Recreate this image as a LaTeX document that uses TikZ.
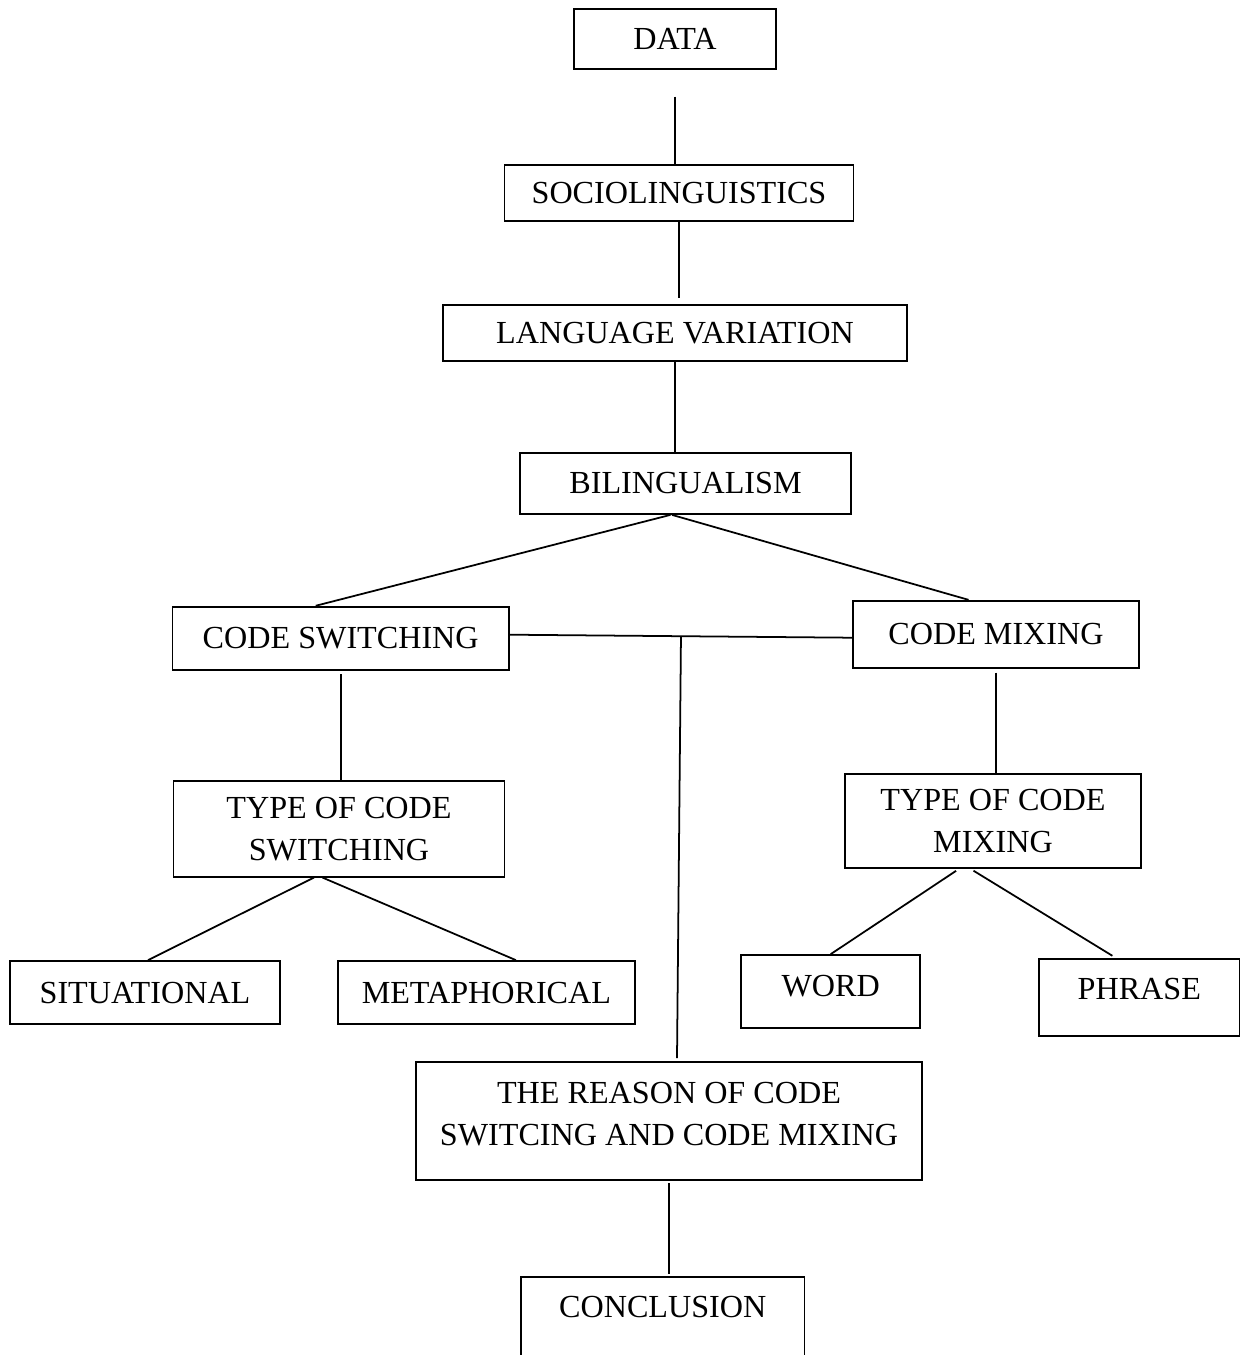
\documentclass[tikz,border=0pt]{standalone}
\usepackage{fontspec}
\setmainfont{Liberation Serif}
\usepackage{tikz}

\tikzset{
    box/.style={draw, line width=1pt, inner sep=0pt, align=center, font=\fontsize{18.3}{24}\selectfont},
    link/.style={line width=1pt},
}

\begin{document}
\begin{tikzpicture}[x=0.02cm, y=-0.02cm]

    % Page
    \useasboundingbox (0, 0) rectangle (1240, 1355);
    \clip (0, 0) rectangle (1240, 1355);

    % Top chain
    \node[box, minimum width=4.04cm, minimum height=1.2cm] (data) at (675, 39.3) {DATA};
    \node[box, minimum width=6.98cm, minimum height=1.12cm] (socio) at (679, 193) {SOCIOLINGUISTICS};
    \node[box, minimum width=9.28cm, minimum height=1.12cm] (lang) at (675, 333) {LANGUAGE VARIATION};
    \node[box, minimum width=6.62cm, minimum height=1.22cm] (biling) at (685.5, 483.5) {BILINGUALISM};

    % Two branches
    \node[box, minimum width=6.73cm, minimum height=1.27cm] (cs) at (340.7, 638.4) {CODE SWITCHING};
    \node[box, minimum width=5.72cm, minimum height=1.34cm] (cm) at (996, 634.2) {CODE MIXING};
    \node[box, minimum width=6.62cm, minimum height=1.92cm] (typecs) at (339, 828.7) {TYPE OF CODE\\SWITCHING};
    \node[box, minimum width=5.92cm, minimum height=1.88cm] (typecm) at (993, 821) {TYPE OF CODE\\MIXING};

    % Leaves
    \node[box, minimum width=5.4cm, minimum height=1.26cm] (sit) at (145, 992.5) {SITUATIONAL};
    \node[box, minimum width=5.94cm, minimum height=1.26cm] (met) at (486.4, 992.5) {METAPHORICAL};
    \node[box, minimum width=3.58cm, minimum height=1.46cm, text depth=0.22cm] (word) at (830.7, 991.5) {WORD};
    \node[box, minimum width=4.01cm, minimum height=1.55cm, text depth=0.34cm] (phrase) at (1139.3, 997.5) {PHRASE};

    % Bottom
    \node[box, minimum width=10.12cm, minimum height=2.36cm, text depth=0.3cm] (reason) at (669, 1121) {THE REASON OF CODE\\SWITCING AND CODE MIXING};
    \node[box, minimum width=5.67cm, minimum height=2.46cm, text depth=1.26cm] (conc) at (662.75, 1338.5) {CONCLUSION};

    % Connectors
    \draw[link, shorten <=0.53cm] (data.south) -- (data.south |- socio.north);
    \draw[link, shorten >=0.12cm] (socio.south) -- (socio.south |- lang.north);
    \draw[link] (lang.south) -- (lang.south |- biling.north);
    \draw[link] ([xshift=-0.3cm]biling.south) -- ([xshift=-0.5cm]cs.north);
    \draw[link] ([xshift=-0.27cm]biling.south) -- ([xshift=-0.55cm]cm.north);
    \draw[link] ([yshift=0.074cm]cs.east) -- coordinate[pos=0.5] (split) ([yshift=-0.07cm]cm.west);
    \draw[link] (split) -- ([xshift=0.16cm, yshift=0.06cm]reason.north);
    \draw[link, shorten <=0.06cm] (cs.south) -- (cs.south |- typecs.north);
    \draw[link, shorten <=0.08cm] (cm.south) -- (cm.south |- typecm.north);
    \draw[link] ([xshift=-0.5cm]typecs.south) -- ([xshift=0.06cm]sit.north);
    \draw[link] ([xshift=-0.33cm]typecs.south) -- ([xshift=0.59cm]met.north);
    \draw[link, shorten <=0.07cm] ([xshift=-0.68cm]typecm.south) -- (word.north);
    \draw[link, shorten <=0.07cm, shorten >=0.08cm] ([xshift=-0.45cm]typecm.south) -- ([xshift=-0.47cm]phrase.north);
    \draw[link, shorten <=0.05cm, shorten >=0.04cm] (reason.south) -- (reason.south |- conc.north);

\end{tikzpicture}
\end{document}
